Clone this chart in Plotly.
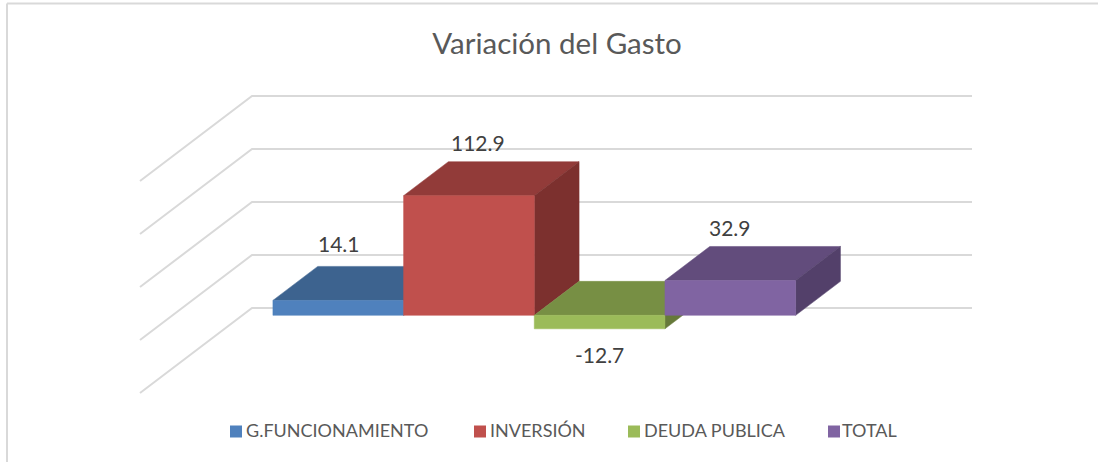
import plotly.graph_objects as go

# data
series = ['G.FUNCIONAMIENTO', 'INVERSIÓN', 'DEUDA PUBLICA', 'TOTAL']
values = [14.1, 112.9, -12.7, 32.9]
grid_levels = [-50, 0, 50, 100, 150]

# colours per series: front, top, side
front_colors = ['#4F81BD', '#C0504D', '#9BBB59', '#8064A2']
top_colors = ['#3D638F', '#923B39', '#778F44', '#624C7C']
side_colors = ['#345479', '#7C302E', '#66793A', '#53406A']
grid_color = '#D9D9D9'

# oblique projection of the fake 3d box, in px
WIDTH, HEIGHT = 1098, 462
PX_PER_UNIT = 1.06
FLOOR_X, FLOOR_W = 140, 720
DEPTH_X, DEPTH_Y = 112, 85
BASE_Y = 340
BAR_START = 0.1395
BAR_W = 0.1815
BAR_D0, BAR_D1 = 0.29, 0.69


def proj(x, d, v):
    # x = 0..1 across the floor, d = 0..1 front to back, v = value
    return FLOOR_X + FLOOR_W * x + DEPTH_X * d, v + DEPTH_Y * d / PX_PER_UNIT


def poly(corners):
    pts = [proj(*c) for c in corners]
    pts.append(pts[0])
    return [p[0] for p in pts], [p[1] for p in pts]


def face(fig, corners, color):
    xs, ys = poly(corners)
    fig.add_trace(go.Scatter(x=xs, y=ys, mode='lines', fill='toself', fillcolor=color,
                             line=dict(color=color, width=0.5), hoverinfo='skip', showlegend=False))


fig = go.Figure()

# walls
for level in grid_levels:
    a = proj(0, 0, level)
    b = proj(0, 1, level)
    c = proj(1, 1, level)
    fig.add_trace(go.Scatter(x=[a[0], b[0], c[0]], y=[a[1], b[1], c[1]], mode='lines',
                             line=dict(color=grid_color, width=2), hoverinfo='skip', showlegend=False))

# bars, left to right so the later ones cover the earlier ones
for i, val in enumerate(values):
    x0 = BAR_START + i * BAR_W
    x1 = x0 + BAR_W
    hi = max(val, 0)
    lo = min(val, 0)
    face(fig, [(x0, BAR_D0, hi), (x1, BAR_D0, hi), (x1, BAR_D1, hi), (x0, BAR_D1, hi)], top_colors[i])
    face(fig, [(x1, BAR_D0, lo), (x1, BAR_D1, lo), (x1, BAR_D1, hi), (x1, BAR_D0, hi)], side_colors[i])
    face(fig, [(x0, BAR_D0, lo), (x1, BAR_D0, lo), (x1, BAR_D0, hi), (x0, BAR_D0, hi)], front_colors[i])

# data labels, nudged by hand in px like the original
label_dx = [1, 9, 0, 0]
label_dy = [4, 0, 3, 0]
for i, val in enumerate(values):
    x0 = BAR_START + i * BAR_W
    if val >= 0:
        lx, ly = proj(x0 + BAR_W / 2, BAR_D1, val)
        lx = lx - DEPTH_X * (BAR_D1 - BAR_D0)
        ly = ly + 19 / PX_PER_UNIT
    else:
        lx, ly = proj(x0 + BAR_W / 2, BAR_D0, val)
        ly = ly - 29 / PX_PER_UNIT
    fig.add_annotation(x=lx + label_dx[i], y=ly + label_dy[i] / PX_PER_UNIT, text=str(val), showarrow=False,
                       font=dict(family='Lato', size=21, color='#404040'))

# legend row
swatch_x = [236, 480, 634, 834]
legend_text_x = [244, 488, 642, 840]
swatch_y = (BASE_Y - 431.5) / PX_PER_UNIT
text_y = (BASE_Y - 430) / PX_PER_UNIT
for i, name in enumerate(series):
    fig.add_trace(go.Scatter(x=[swatch_x[i]], y=[swatch_y], mode='markers',
                             marker=dict(symbol='square', size=12, color=front_colors[i]),
                             hoverinfo='skip', showlegend=False))
    fig.add_annotation(x=legend_text_x[i], y=text_y, text=name, showarrow=False, xanchor='left',
                       font=dict(family='Lato', size=18, color='#595959'))

fig.update_layout(
    title=dict(text='Variación del Gasto', x=557 / WIDTH, xanchor='center', y=1 - 44 / HEIGHT, yanchor='middle',
               font=dict(family='Lato', size=29.5, color='#595959')),
    width=WIDTH, height=HEIGHT,
    margin=dict(l=0, r=0, t=0, b=0),
    paper_bgcolor='white', plot_bgcolor='white',
    xaxis=dict(range=[0, WIDTH], visible=False, fixedrange=True),
    yaxis=dict(range=[(BASE_Y - HEIGHT) / PX_PER_UNIT, BASE_Y / PX_PER_UNIT], visible=False, fixedrange=True),
    shapes=[
        dict(type='line', xref='x', yref='paper', x0=7, x1=7, y0=0, y1=1 - 3.5 / HEIGHT,
             line=dict(color=grid_color, width=2)),
        dict(type='line', xref='x', yref='paper', x0=7, x1=WIDTH, y0=1 - 3.5 / HEIGHT, y1=1 - 3.5 / HEIGHT,
             line=dict(color=grid_color, width=2)),
    ],
)

fig.write_html("out.html", config=dict(displayModeBar=False),
               post_script="document.body.style.margin='0';document.body.style.overflow='hidden';")
